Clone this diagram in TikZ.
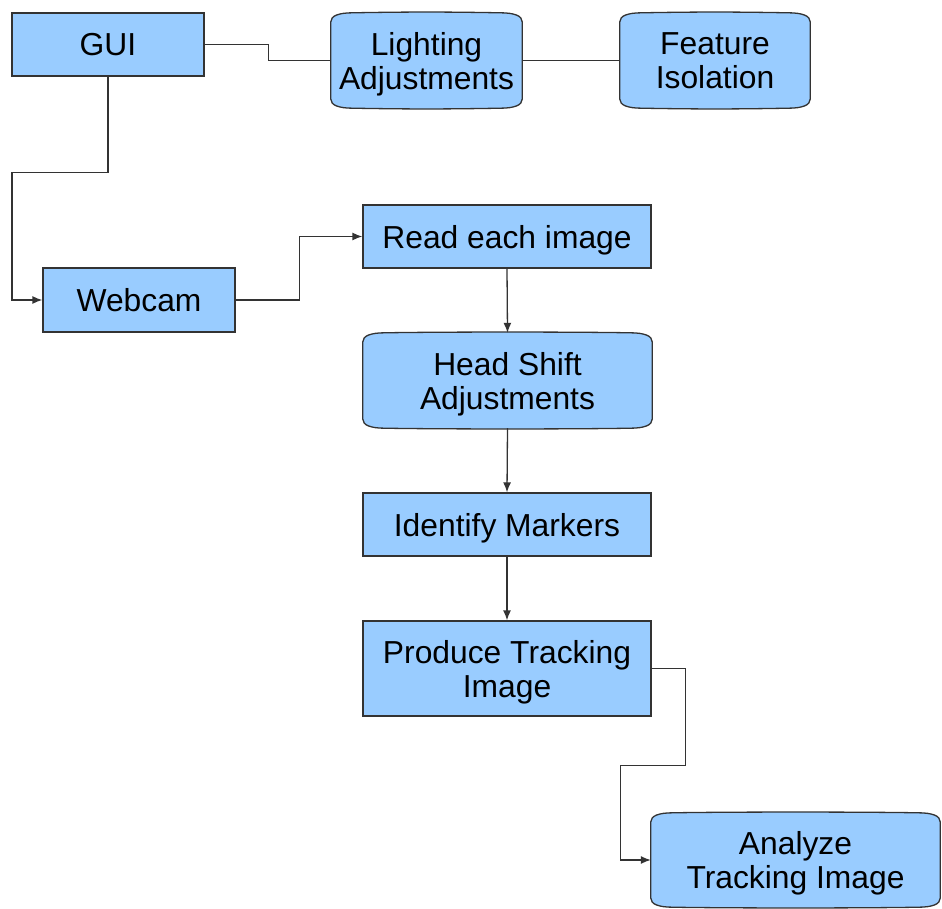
\documentclass[tikz,border=0pt]{standalone}
\usepackage{fontspec}
\setmainfont{Liberation Sans}
\usetikzlibrary{arrows.meta,calc,backgrounds}
\definecolor{boxfill}{HTML}{99CCFF}
\definecolor{edge}{HTML}{333333}
\tikzset{
  x=1pt, y=1pt,
  every node/.style={inner sep=0pt, align=center, text depth=0pt, font=\fontsize{31.8}{34}\selectfont},
  procbox/.style={draw=edge, line width=1.3pt, fill=boxfill, rectangle},
  storebox/.style={rectangle},
  conn/.style={draw=edge, line width=1.3pt},
  arr/.style={conn, -{Latex[length=10pt,width=8pt]}},
  storeline/.style={draw=edge, line width=1.3pt, fill=boxfill}
}
\newcommand\drawstore[1]{%
  \path[storeline] let \p1=(#1.south west), \p2=(#1.north east) in
    (\x1,\y1+9) -- (\x1,\y2-9)
    .. controls (\x1,\y2-3) and (\x1+8,\y2) .. (\x1+22,\y2)
    .. controls (\x1+80,\y2+1) and (\x2-80,\y2+1) .. (\x2-22,\y2)
    .. controls (\x2-8,\y2) and (\x2,\y2-3) .. (\x2,\y2-9)
    -- (\x2,\y1+9)
    .. controls (\x2,\y1+3) and (\x2-8,\y1) .. (\x2-22,\y1)
    .. controls (\x2-80,\y1-1) and (\x1+80,\y1-1) .. (\x1+22,\y1)
    .. controls (\x1+8,\y1) and (\x1,\y1+3) .. (\x1,\y1+9) -- cycle;}
\begin{document}
\begin{tikzpicture}
\useasboundingbox (0,0) rectangle (942,-909);
% process boxes
\node[procbox, minimum width=192pt, minimum height=63pt] (gui) at (108,-44.5) {GUI};
\node[procbox, minimum width=192pt, minimum height=64pt] (web) at (139,-300) {Webcam};
\node[procbox, minimum width=288pt, minimum height=63pt] (read) at (507,-236.5) {Read each image};
\node[procbox, minimum width=288pt, minimum height=63pt] (ident) at (507,-524.5) {Identify Markers};
\node[procbox, minimum width=288pt, minimum height=95pt] (prod) at (507,-668.5) {Produce Tracking\\Image};
% stored-data shapes
\node[storebox, minimum width=191pt, minimum height=95pt] (light) at (426.5,-60.5) {Lighting\\Adjustments};
\node[storebox, minimum width=190pt, minimum height=95pt] (feat) at (715,-60.5) {Feature\\Isolation};
\node[storebox, minimum width=289pt, minimum height=95pt] (head) at (507.5,-380.5) {Head Shift\\Adjustments};
\node[storebox, minimum width=289pt, minimum height=94pt] (ana) at (795.5,-860) {Analyze\\Tracking Image};
\begin{scope}[on background layer]
\drawstore{light}
\drawstore{feat}
\drawstore{head}
\drawstore{ana}
\end{scope}
% connectors
\draw[conn] (gui.east) -- ++(64,0) |- (light.west);
\draw[conn] (light.east) -- (feat.west);
\draw[arr] (gui.south) |- ++(-96,-96) |- (web.west);
\draw[arr] (web.east) -- ++(64,0) |- (read.west);
\draw[arr] (read.south) -- (head.north);
\draw[arr] (head.south) -- (ident.north);
\draw[arr] (ident.south) -- (prod.north);
\draw[arr] (prod.east) -- ++(34,0) -- ++(0,-97) -- ++(-65,0) |- (ana.west);
\end{tikzpicture}
\end{document}
